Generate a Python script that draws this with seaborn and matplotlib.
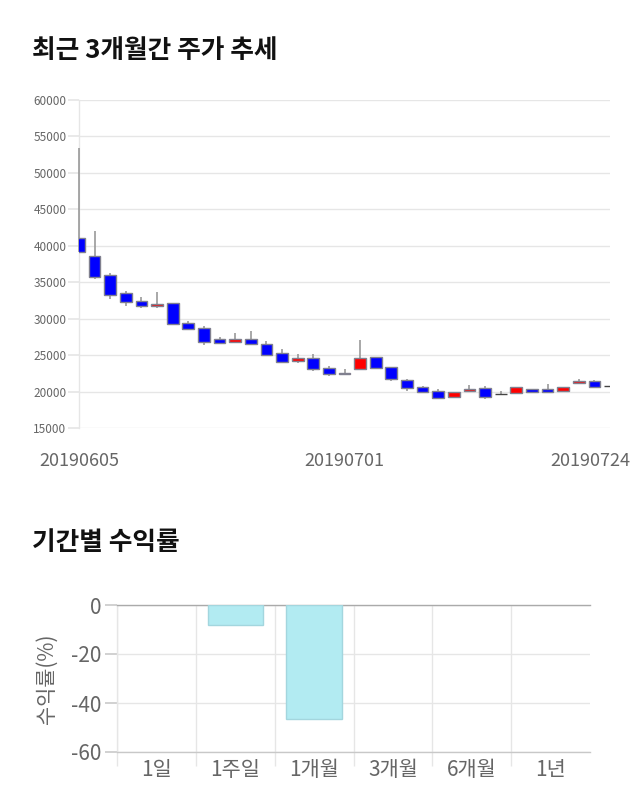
import numpy as np
import pandas as pd
import matplotlib
matplotlib.use("Agg")
import matplotlib.pyplot as plt
import seaborn as sns
from matplotlib.transforms import ScaledTranslation

# ---- price data (candles) ----
dates = ["20190605", "20190607", "20190610", "20190611", "20190612", "20190613",
         "20190614", "20190617", "20190618", "20190619", "20190620", "20190621",
         "20190624", "20190625", "20190626", "20190627", "20190628", "20190701",
         "20190702", "20190703", "20190704", "20190705", "20190708", "20190709",
         "20190710", "20190711", "20190712", "20190715", "20190716", "20190717",
         "20190718", "20190719", "20190722", "20190723", "20190724"]
opens = [41100, 38550, 36000, 33550, 32400, 31800, 32100, 29400, 28750, 27150,
         26850, 27200, 26500, 25300, 24200, 24650, 23200, 22400, 23100, 24750,
         23350, 21600, 20600, 20100, 19300, 20100, 20500, 19600, 19800, 20400,
         20400, 20100, 21150, 21500, 20750]
highs = [53400, 42000, 36200, 33850, 32950, 33650, 32100, 29650, 29000, 27450,
         28050, 28350, 26950, 25800, 25100, 25200, 23500, 23050, 27050, 24750,
         23400, 21750, 20800, 20400, 19950, 20950, 20750, 20100, 20600, 20400,
         21050, 20650, 21700, 21600, 20750]
lows = [39100, 35400, 32750, 31800, 31500, 31450, 29300, 28450, 26400, 26500,
        26700, 26550, 24900, 23900, 23950, 22800, 22150, 22300, 23000, 23200,
        21500, 20100, 19800, 19000, 19100, 19950, 19000, 19600, 19650, 19750,
        19900, 19900, 21000, 20550, 20750]
closes = [39150, 35700, 33250, 32350, 31700, 32000, 29300, 28550, 26850, 26650,
          27150, 26550, 24950, 24100, 24550, 23150, 22400, 22550, 24650, 23200,
          21750, 20450, 19900, 19050, 19950, 20400, 19300, 19600, 20600, 20000,
          20000, 20650, 21400, 20650, 20750]
price_ticks = [15000, 20000, 25000, 30000, 35000, 40000, 45000, 50000, 55000, 60000]
date_tick_idx = [0, 17, 34]

# ---- period returns ----
periods = ["1일", "1주일", "1개월", "3개월", "6개월", "1년"]
returns = [0.0, -8.2, -46.6, 0.0, 0.0, 0.0]
return_ticks = [0, -20, -40, -60]

sns.set_theme(style="white")
plt.rcParams["font.family"] = ["Noto Sans CJK KR", "DejaVu Sans"]

W, H = 640, 810
fig = plt.figure(figsize=(W / 100, H / 100), dpi=100)

GRID = "#e6e6e6"
TXT = "#666666"

# ================= candle chart =================
ax1 = fig.add_axes([79 / W, 1 - 428 / H, 531 / W, 328 / H])
o = np.array(opens, float)
c = np.array(closes, float)
hi = np.array(highs, float)
lo = np.array(lows, float)
x = np.arange(len(dates))

up = c > o
down = c < o
face = np.where(up, "#ff0000", np.where(down, "#0000ff", "#444444"))
edge = np.where(up | down, "#80808f", "#444444")
bottom = np.minimum(o, c)
height = np.abs(c - o)

ax1.vlines(x, lo, hi, color="#999999", lw=1.2, zorder=2, clip_on=False)
ax1.bar(x, height, bottom=bottom, width=0.75, color=face, edgecolor=edge,
        linewidth=1, zorder=3)

ax1.set_xlim(0, len(dates) - 1)
ax1.set_ylim(min(price_ticks), max(price_ticks))
ax1.set_yticks(price_ticks)
ax1.set_yticklabels([str(t) for t in price_ticks], fontsize=8.5, color=TXT)
ax1.tick_params(axis="y", length=8, color=GRID, pad=1, left=True)
ax1.set_xticks(date_tick_idx)
ax1.set_xticklabels([dates[i] for i in date_tick_idx], fontsize=13, color=TXT)
ax1.tick_params(axis="x", length=0, pad=17)
last = ax1.get_xticklabels()[-1]
last.set_transform(last.get_transform() + ScaledTranslation(-0.20, 0, fig.dpi_scale_trans))
ax1.grid(axis="y", color=GRID, lw=1)
ax1.grid(axis="x", visible=False)
for s in ["top", "right", "bottom"]:
    ax1.spines[s].set_visible(False)
ax1.spines["left"].set_color(GRID)
ax1.spines["left"].set_linewidth(1)
ax1.spines["left"].set_zorder(0)
ax1.set_facecolor("white")

fig.text(32 / W, 1 - 51 / H, "최근 3개월간 주가 추세", fontsize=18.5,
         fontweight="bold", va="center", ha="left", color="#111111")

# ================= returns chart =================
fig.text(32 / W, 1 - 543 / H, "기간별 수익률", fontsize=18.5,
         fontweight="bold", va="center", ha="left", color="#111111")

ax2 = fig.add_axes([117 / W, 1 - 752 / H, 473 / W, 147 / H])
df = pd.DataFrame({"period": periods, "ret": returns})
sns.barplot(data=df, x="period", y="ret", ax=ax2, color="#b2ebf2",
            edgecolor="#a3d6de", linewidth=1, width=0.7, saturation=1, zorder=3)
for p in ax2.patches:
    if p.get_height() == 0:
        p.set_visible(False)
ax2.set_ylim(min(return_ticks), max(return_ticks))
ax2.set_xlim(-0.5, len(periods) - 0.5)
ax2.set_yticks(return_ticks)
ax2.set_yticklabels([str(t) for t in return_ticks], fontsize=15, color=TXT)
ax2.tick_params(axis="y", length=9, color="#cccccc", pad=2, left=True)
ax2.tick_params(axis="x", which="major", length=0, pad=5, labelsize=15, labelcolor=TXT)
ax2.set_xticks(np.arange(len(periods)) - 0.5, minor=True)
ax2.tick_params(axis="x", which="minor", length=10, color=GRID, bottom=True)
ax2.grid(axis="y", color=GRID, lw=1)
ax2.grid(axis="x", which="minor", color=GRID, lw=1)
ax2.grid(axis="x", which="major", visible=False)
ax2.set_xlabel("")
ax2.set_ylabel("수익률(%)", fontsize=15, color=TXT)
ax2.yaxis.set_label_coords((58 - 117) / 473, 0.5)
ax2.spines["right"].set_visible(False)
ax2.spines["top"].set_color("#aaaaaa")
ax2.spines["bottom"].set_color("#c8c8c8")
ax2.spines["left"].set_color(GRID)
for s in ["top", "bottom", "left"]:
    ax2.spines[s].set_linewidth(1)
ax2.set_facecolor("white")

fig.savefig("out.png", dpi=100, facecolor="white")
